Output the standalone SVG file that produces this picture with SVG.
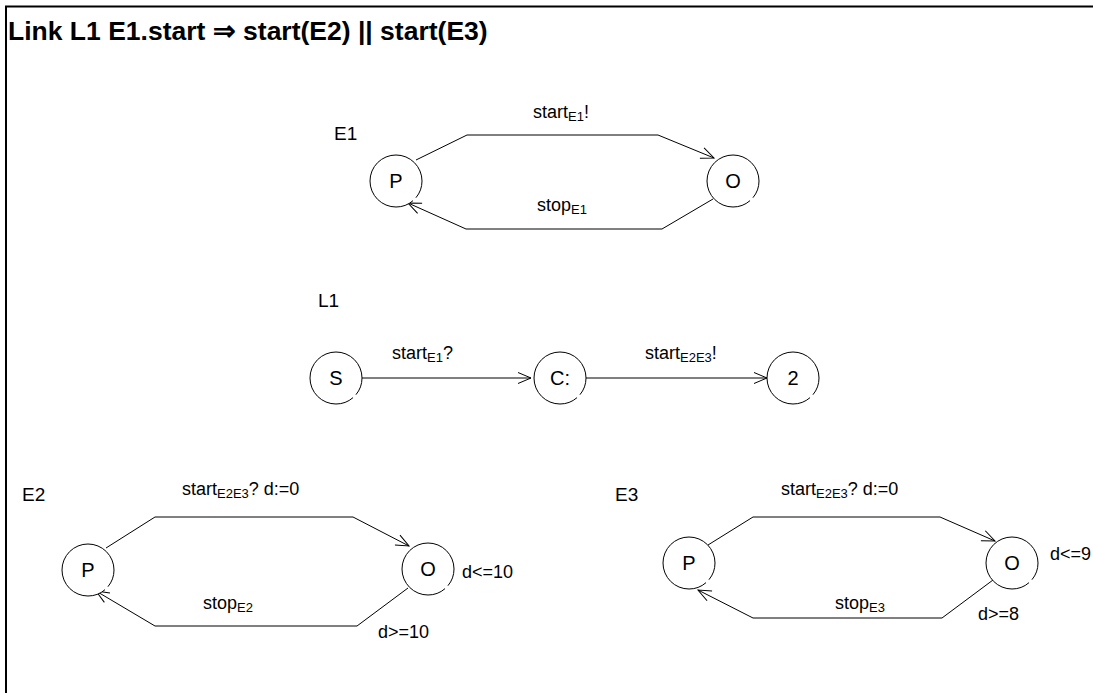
<svg xmlns="http://www.w3.org/2000/svg" width="1093" height="693" viewBox="0 0 1093 693">
<style>
text{font-family:"Liberation Sans",Arial,sans-serif;fill:#000}
.t{font-size:26.5px;font-weight:bold}
.a{font-size:19px}
.n{font-size:20px;text-anchor:middle}
.e{font-size:18px}
.s{font-size:13px}
.st{fill:#fff;stroke:#000;stroke-width:1;stroke-dasharray:40 9 311}
.c{fill:none;stroke:#000;stroke-width:1;marker-end:url(#arr)}
</style>
<defs>
<marker id="arr" markerUnits="userSpaceOnUse" markerWidth="16" markerHeight="14" refX="14" refY="7" orient="auto">
<path d="M1,1.5 L14,7 L1,12.5" fill="none" stroke="#000" stroke-width="1"/>
</marker>
</defs>
<rect width="1093" height="693" fill="#fff"/>
<path d="M6,693 V6.5 H1093" fill="none" stroke="#000" stroke-width="2"/>
<text class="t" x="8" y="40">Link L1 E1.start ⇒ start(E2) || start(E3)</text>
<text class="a" x="334" y="140">E1</text>
<text class="a" x="318" y="307">L1</text>
<text class="a" x="22" y="501">E2</text>
<text class="a" x="615" y="501">E3</text>
<g id="connectors">
<path class="c" d="M416,160 L467,135 L658,135 L714,158"/>
<path class="c" d="M713,199 L662,229 L466,229 L408,203"/>
<path class="c" d="M362,378 L531,378"/>
<path class="c" d="M586,378 L767,378"/>
<path class="c" d="M106,548 L155,517 L353,517 L409,546"/>
<path class="c" d="M408,588 L357,626 L155,626 L96,591"/>
<path class="c" d="M708,545 L753,517 L940,517 L995,541"/>
<path class="c" d="M993,580 L942,618 L753,618 L698,590"/>
<text class="e" x="533" y="118">start<tspan class="s" dy="3">E1</tspan><tspan dy="-3">!</tspan></text>
<text class="e" x="537" y="211">stop<tspan class="s" dy="3">E1</tspan></text>
<text class="e" x="392" y="359">start<tspan class="s" dy="3">E1</tspan><tspan dy="-3">?</tspan></text>
<text class="e" x="645" y="359">start<tspan class="s" dy="3">E2E3</tspan><tspan dy="-3">!</tspan></text>
<text class="e" x="182" y="495">start<tspan class="s" dy="3">E2E3</tspan><tspan dy="-3">?  d:=0</tspan></text>
<text class="e" x="203" y="609">stop<tspan class="s" dy="3">E2</tspan></text>
<text class="e" x="781" y="495">start<tspan class="s" dy="3">E2E3</tspan><tspan dy="-3">? d:=0</tspan></text>
<text class="e" x="835" y="609">stop<tspan class="s" dy="3">E3</tspan></text>
</g>
<g id="E1_P"><circle class="st" pathLength="360" cx="396" cy="181" r="26"/><text class="n" x="396" y="188">P</text></g>
<g id="E1_O"><circle class="st" pathLength="360" cx="733" cy="181" r="26"/><text class="n" x="733" y="188">O</text></g>
<g id="L1_S"><circle class="st" pathLength="360" cx="336" cy="378" r="26"/><text class="n" x="336" y="385">S</text></g>
<g id="L1_C"><circle class="st" pathLength="360" cx="560" cy="378" r="26"/><text class="n" x="560" y="385">C:</text></g>
<g id="L1_2"><circle class="st" pathLength="360" cx="793" cy="378" r="26"/><text class="n" x="793" y="385">2</text></g>
<g id="E2_P"><circle class="st" pathLength="360" cx="88" cy="570" r="26"/><text class="n" x="88" y="577">P</text></g>
<g id="E2_O"><circle class="st" pathLength="360" cx="428" cy="569" r="26"/><text class="n" x="428" y="576">O</text><text class="e" x="462" y="578">d&lt;=10</text><text class="e" x="378" y="638">d&gt;=10</text></g>
<g id="E3_P"><circle class="st" pathLength="360" cx="689" cy="563" r="26"/><text class="n" x="689" y="570">P</text></g>
<g id="E3_O"><circle class="st" pathLength="360" cx="1012" cy="563" r="26"/><text class="n" x="1012" y="570">O</text><text class="e" x="1050" y="560">d&lt;=9</text><text class="e" x="978" y="620">d&gt;=8</text></g>
</svg>
